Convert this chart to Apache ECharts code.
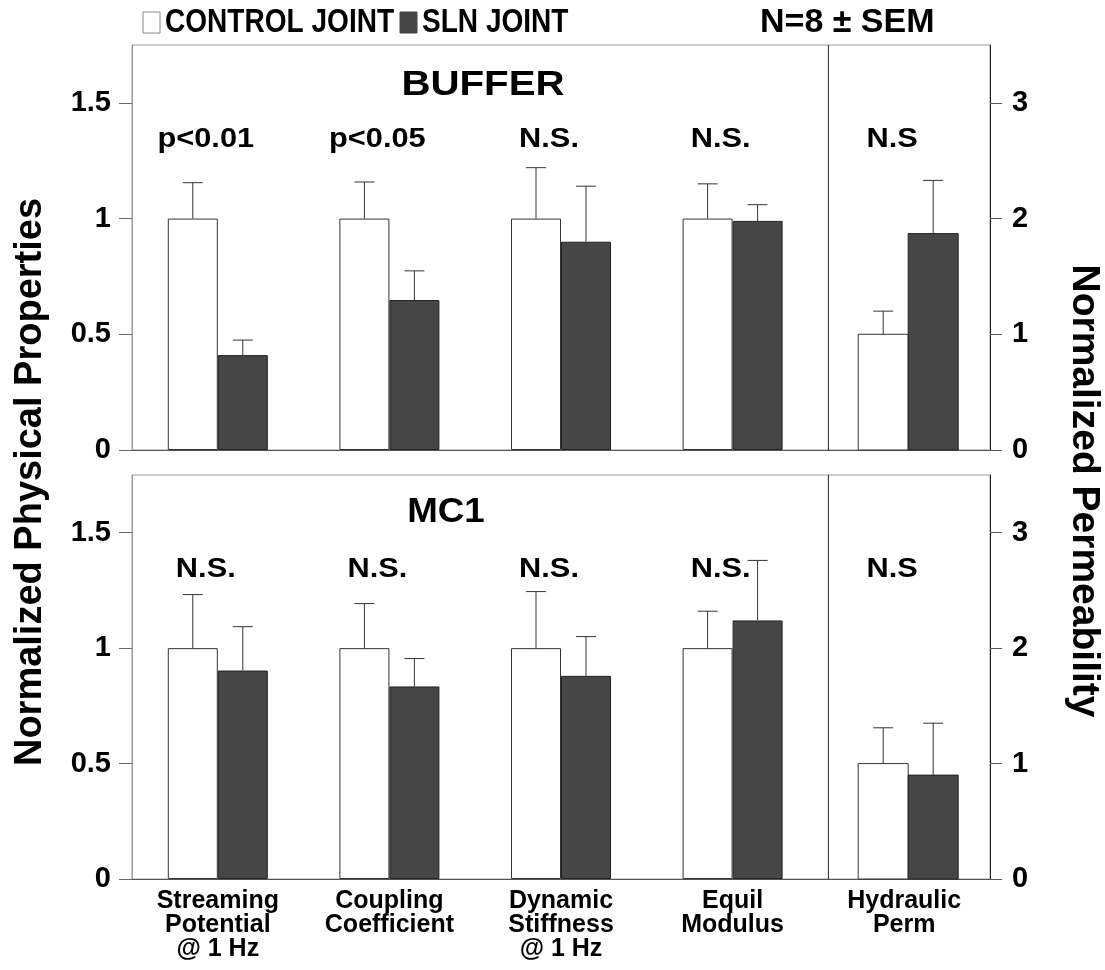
<!DOCTYPE html>
<html><head><meta charset="utf-8">
<script src="https://cdn.jsdelivr.net/npm/echarts@6/dist/echarts.min.js"></script>
<style>html,body{margin:0;padding:0;background:#fff}#c{width:1105px;height:970px}</style>
</head><body><div id="c"></div>
<script>
// ---------- data ----------
const categories = ['Streaming\nPotential\n@ 1 Hz', 'Coupling\nCoefficient', 'Dynamic\nStiffness\n@ 1 Hz', 'Equil\nModulus', 'Hydraulic\nPerm'];
const seriesNames = ['CONTROL JOINT', 'SLN JOINT'];
const panelNames = ['BUFFER', 'MC1'];
const noteText = 'N=8 \u00b1 SEM';
const leftTitle = 'Normalized Physical Properties';
const rightTitle = 'Normalized Permeability';
const leftTicks = [0, 0.5, 1, 1.5];
const rightTicks = [0, 1, 2, 3];
// physical properties (left axis), first four categories
const bufferControl    = [1, 1, 1, 1];
const bufferControlErr = [1.155, 1.158, 1.22, 1.15];
const bufferSLN        = [0.41, 0.648, 0.90, 0.99];
const bufferSLNErr     = [0.475, 0.774, 1.14, 1.06];
const mc1Control       = [1, 1, 1, 1];
const mc1ControlErr    = [1.232, 1.193, 1.245, 1.16];
const mc1SLN           = [0.903, 0.834, 0.88, 1.12];
const mc1SLNErr        = [1.093, 0.955, 1.05, 1.38];
// hydraulic permeability (right axis): [BUFFER, MC1]
const permControl      = [1.0, 1.0];
const permControlErr   = [1.2, 1.31];
const permSLN          = [1.87, 0.90];
const permSLNErr       = [2.33, 1.35];
// significance labels
const bufferSig = ['p<0.01', 'p<0.05', 'N.S.', 'N.S.', 'N.S'];
const mc1Sig    = ['N.S.', 'N.S.', 'N.S.', 'N.S.', 'N.S'];

// ---------- styles ----------
const FONT = "'Liberation Sans', Arial, Helvetica, sans-serif";
const CTRL_FILL = '#ffffff';
const SLN_FILL = '#464646';
const BAR_W = 50;
const SIG_Y = 1.34;

const chart = echarts.init(document.getElementById('c'), null, {renderer: 'canvas'});

const grids = [
  {left: 132, right: 115, top: 45, height: 405},
  {left: 132, right: 115, top: 475, height: 404}
].map(g => Object.assign(g, {show: true, borderColor: '#9a9a9a', borderWidth: 1, backgroundColor: 'transparent'}));

const xAxes = [0, 1].map(i => ({
  type: 'category', gridIndex: i, data: categories,
  axisTick: {show: false},
  axisLine: {show: true, lineStyle: {color: '#555', width: 1}},
  axisLabel: i === 1 ? {
    show: true, interval: 0, margin: 10, color: '#000',
    fontFamily: FONT, fontWeight: 'bold', fontSize: 25, lineHeight: 24
  } : {show: false}
}));

const yAxes = [];
[0, 1].forEach(i => {
  yAxes.push({
    type: 'value', gridIndex: i, position: 'left', min: 0, max: 1.75, interval: 0.25,
    splitLine: {show: false},
    axisLine: {show: true, lineStyle: {color: '#9a9a9a', width: 1}},
    axisTick: {show: true, length: 13, customValues: leftTicks, lineStyle: {color: '#666'}},
    axisLabel: {customValues: leftTicks, margin: 21, color: '#000', fontFamily: FONT, fontWeight: 'bold', fontSize: 29}
  });
  yAxes.push({
    type: 'value', gridIndex: i, position: 'right', min: 0, max: 3.5, interval: 0.5,
    splitLine: {show: false},
    axisLine: {show: true, lineStyle: {color: '#222', width: 1}},
    axisTick: {show: true, length: 12, customValues: rightTicks, lineStyle: {color: '#555'}},
    axisLabel: {customValues: rightTicks, margin: 22, color: '#000', fontFamily: FONT, fontWeight: 'bold', fontSize: 29}
  });
});

function barSeries(name, data, xi, yi, fill, border) {
  return {
    type: 'bar', name: name, xAxisIndex: xi, yAxisIndex: yi,
    data: data.concat(['-']), barWidth: BAR_W, barGap: '0%',
    itemStyle: {color: fill, borderColor: border, borderWidth: 1},
    emphasis: {disabled: true}, silent: true
  };
}

// hydraulic bars on right axis, drawn through that axis
function permBars(panel, xi, yi) {
  const data = [[4, permControl[panel], -1], [4, permSLN[panel], 1]];
  return {
    type: 'custom', name: 'perm' + panel, xAxisIndex: xi, yAxisIndex: yi, silent: true,
    data: data,
    renderItem: function (params, api) {
      const base = api.coord([api.value(0), 0]);
      const top = api.coord([api.value(0), api.value(1)]);
      const side = api.value(2);
      const c = base[0] + 4;
      const x = side < 0 ? c - BAR_W : c;
      return {
        type: 'rect',
        shape: {x: x, y: top[1], width: BAR_W, height: base[1] - top[1]},
        style: {fill: side < 0 ? CTRL_FILL : SLN_FILL, stroke: side < 0 ? '#333' : '#222', lineWidth: 1}
      };
    }
  };
}

// error bars (upper whisker only)
function errBars(name, values, tops, xi, yi, idxList, side, shift) {
  const data = idxList.map((ci, k) => [ci, values[k], tops[k], side]);
  return {
    type: 'custom', name: name, xAxisIndex: xi, yAxisIndex: yi, silent: true, z: 3,
    data: data,
    renderItem: function (params, api) {
      const a = api.coord([api.value(0), api.value(1)]);
      const b = api.coord([api.value(0), api.value(2)]);
      const x = a[0] + api.value(3) * BAR_W / 2 + (shift || 0);
      return {
        type: 'group',
        children: [
          {type: 'line', shape: {x1: x, y1: a[1], x2: x, y2: b[1]}, style: {stroke: '#333', lineWidth: 1}},
          {type: 'line', shape: {x1: x - 10, y1: b[1], x2: x + 10, y2: b[1]}, style: {stroke: '#333', lineWidth: 1}}
        ]
      };
    }
  };
}

function sigSeries(labels, xi, yi) {
  return {
    type: 'custom', name: 'sig' + xi, xAxisIndex: xi, yAxisIndex: yi, silent: true,
    data: labels.map((t, i) => [i, SIG_Y]),
    renderItem: function (params, api) {
      const p = api.coord([api.value(0), api.value(1)]);
      return {
        type: 'text', x: p[0] - 12, y: p[1], scaleX: 1.14, scaleY: 1,
        style: {text: labels[params.dataIndex], align: 'center', verticalAlign: 'middle',
                fill: '#000', font: 'bold 27px ' + FONT}
      };
    }
  };
}

function dividerSeries(xi, yi) {
  return {
    type: 'custom', name: 'div' + xi, xAxisIndex: xi, yAxisIndex: yi, silent: true,
    data: [[3, 0], [4, 0]],
    renderItem: function (params, api) {
      if (params.dataIndex !== 0) return null;
      const a = api.coord([3, 0]);
      const b = api.coord([4, 0]);
      const top = api.coord([3, 1.75]);
      const x = (a[0] + b[0]) / 2 + 10;
      return {type: 'line', shape: {x1: x, y1: a[1], x2: x, y2: top[1]}, style: {stroke: '#222', lineWidth: 1}};
    }
  };
}

const idx4 = [0, 1, 2, 3];
const series = [
  barSeries(seriesNames[0], bufferControl, 0, 0, CTRL_FILL, '#333'),
  barSeries(seriesNames[1], bufferSLN, 0, 0, SLN_FILL, '#222'),
  barSeries(seriesNames[0], mc1Control, 1, 2, CTRL_FILL, '#333'),
  barSeries(seriesNames[1], mc1SLN, 1, 2, SLN_FILL, '#222'),
  permBars(0, 0, 1),
  permBars(1, 1, 3),
  errBars('e1', bufferControl, bufferControlErr, 0, 0, idx4, -1),
  errBars('e2', bufferSLN, bufferSLNErr, 0, 0, idx4, 1),
  errBars('e3', mc1Control, mc1ControlErr, 1, 2, idx4, -1),
  errBars('e4', mc1SLN, mc1SLNErr, 1, 2, idx4, 1),
  errBars('e5', [permControl[0]], [permControlErr[0]], 0, 1, [4], -1, 4),
  errBars('e6', [permSLN[0]], [permSLNErr[0]], 0, 1, [4], 1, 4),
  errBars('e7', [permControl[1]], [permControlErr[1]], 1, 3, [4], -1, 4),
  errBars('e8', [permSLN[1]], [permSLNErr[1]], 1, 3, [4], 1, 4),
  sigSeries(bufferSig, 0, 0),
  sigSeries(mc1Sig, 1, 2),
  dividerSeries(0, 0),
  dividerSeries(1, 2)
];

function legendItem(x, name, fill, stroke) {
  return {
    type: 'group', x: x, y: 0,
    children: [
      {type: 'rect', shape: {x: 0, y: 12, width: 17, height: 21}, style: {fill: fill, stroke: stroke, lineWidth: 1}},
      {type: 'text', x: 22, y: 23, scaleX: 0.85, style: {text: name, align: 'left', verticalAlign: 'middle', fill: '#000', font: 'bold 33px ' + FONT}}
    ]
  };
}

chart.setOption({
  animation: false,
  backgroundColor: '#fff',
  grid: grids,
  xAxis: xAxes,
  yAxis: yAxes,
  graphic: [
    legendItem(143, seriesNames[0], CTRL_FILL, '#888'),
    legendItem(400, seriesNames[1], SLN_FILL, '#444'),
    {type: 'text', x: 760, y: 23, style: {text: noteText, align: 'left', verticalAlign: 'middle', fill: '#000', font: 'bold 34px ' + FONT}},
    {type: 'text', x: 483, y: 85, scaleX: 1.15, style: {text: panelNames[0], align: 'center', verticalAlign: 'middle', fill: '#000', font: 'bold 35px ' + FONT}},
    {type: 'text', x: 446, y: 512, scaleX: 1.05, style: {text: panelNames[1], align: 'center', verticalAlign: 'middle', fill: '#000', font: 'bold 35px ' + FONT}},
    {type: 'text', x: 31, y: 482, rotation: Math.PI / 2, style: {text: leftTitle, align: 'center', verticalAlign: 'middle', fill: '#000', font: 'bold 38px ' + FONT}},
    {type: 'text', x: 1084, y: 491, rotation: -Math.PI / 2, style: {text: rightTitle, align: 'center', verticalAlign: 'middle', fill: '#000', font: 'bold 39px ' + FONT}}
  ],
  series: series
});
</script>
</body></html>
